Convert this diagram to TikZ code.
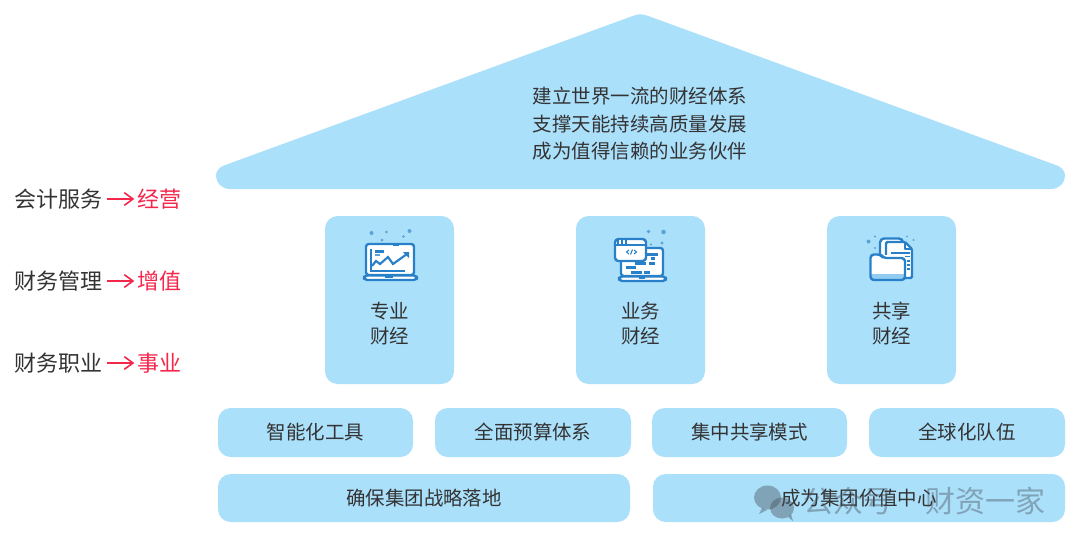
\documentclass[tikz,border=0pt]{standalone}
\usepackage{fontspec}
\setmainfont{Noto Sans CJK SC}
\usetikzlibrary{arrows.meta}
\definecolor{sky}{RGB}{171,224,251}
\definecolor{ink}{RGB}{51,51,51}
\definecolor{redc}{RGB}{245,38,75}
\definecolor{iconb}{RGB}{40,128,200}
\definecolor{icond}{RGB}{92,162,216}
\definecolor{wm}{RGB}{70,80,90}
\tikzset{
  tile/.style={fill=sky,draw=none,rounded corners=9.5pt,inner sep=0pt},
  mlbl/.style={text=ink,inner sep=0pt,align=center,font=\fontsize{14.6}{20.6}\selectfont},
  lbl/.style={text=ink,inner sep=0pt,text height=12.5pt,text depth=1.5pt,font=\fontsize{14.6}{20.6}\selectfont},
  lefttxt/.style={text=ink,inner sep=0pt,anchor=west,text height=14pt,text depth=1.5pt,font=\fontsize{16.5}{20}\selectfont},
  redtxt/.style={text=redc,inner sep=0pt,anchor=west,text height=14pt,text depth=1.5pt,font=\fontsize{16.5}{20}\selectfont},
  redarrow/.style={draw=redc,line width=1.35pt,-{Straight Barb[length=6.5pt,width=9.5pt,line width=1.2pt]},shorten <=3pt,shorten >=2pt},
  ic/.style={draw=iconb,line width=1.8pt,line join=round},
  icf/.style={ic,fill=white},
  ict/.style={draw=iconb,line width=1.6pt},
  dot/.style={fill=icond,draw=none},
  wmtxt/.style={text=wm,opacity=.42,inner sep=0pt,anchor=west,text height=19.5pt,text depth=2.5pt,font=\fontsize{22.5}{24}\selectfont}
}
\begin{document}
\begin{tikzpicture}[x=0.75pt,y=-0.75pt]
\useasboundingbox (0,0) rectangle (1080,544);
% roof
\fill[sky] (230,189) .. controls (222,189) and (216,183) .. (216,176)
  .. controls (216,171) and (219,167.5) .. (224,165.5) -- (634,15.5)
  .. controls (638,14) and (642.5,14) .. (647,15.5) -- (1057,165.5)
  .. controls (1062,167.5) and (1065,171) .. (1065,176)
  .. controls (1065,183) and (1059,189) .. (1051,189) -- cycle;
\node[mlbl] (rooftext) at (640,124) {建立世界一流的财经体系\\支撑天能持续高质量发展\\成为值得信赖的业务伙伴};
% pillars
\path[tile] (325,216) rectangle (454,384);
\path[tile] (576,216) rectangle (705,384);
\path[tile] (827,216) rectangle (956,384);
\node[mlbl,font=\fontsize{14.6}{18.75}\selectfont] (p1) at (389.5,323.5) {专业\\财经};
\node[mlbl,font=\fontsize{14.6}{18.75}\selectfont] (p2) at (640.5,323.5) {业务\\财经};
\node[mlbl,font=\fontsize{14.6}{18.75}\selectfont] (p3) at (891.5,323.5) {共享\\财经};
% row 1
\path[tile] (218,408) rectangle (413,457);
\path[tile] (435,408) rectangle (631,457);
\path[tile] (652,408) rectangle (847,457);
\path[tile] (869,408) rectangle (1065,457);
\node[lbl] (r1) at (315.5,432.5) {智能化工具};
\node[lbl] (r2) at (533,432.5) {全面预算体系};
\node[lbl] (r3) at (749.5,432.5) {集中共享模式};
\node[lbl] (r4) at (967,432.5) {全球化队伍};
% row 2
\path[tile] (218,474) rectangle (630,522);
\path[tile] (653,474) rectangle (1065,522);
\node[lbl] (b1) at (424,498) {确保集团战略落地};
\node[lbl] (b2) at (859,498) {成为集团价值中心};
% left labels
\node[lefttxt] (a1) at (14,199) {会计服务};
\node[redtxt] (c1) at (137,199) {经营};
\node[lefttxt] (a2) at (14,281) {财务管理};
\node[redtxt] (c2) at (137,281) {增值};
\node[lefttxt] (a3) at (14,363) {财务职业};
\node[redtxt] (c3) at (137,363) {事业};
\draw[redarrow] (a1.east) -- (c1.west);
\draw[redarrow] (a2.east) -- (c2.west);
\draw[redarrow] (a3.east) -- (c3.west);
% icon 1: laptop with chart
\fill[dot] (371.5,233) circle (2);
\fill[dot] (386.5,232) circle (1.3);
\fill[dot] (382,240) circle (1.5);
\fill[dot] (403.5,236.5) circle (1.3);
\fill[dot] (409.5,231) circle (2);
\draw[icf,rounded corners=2pt] (366,244) rectangle (414,275);
\fill[iconb] (393,242.5) rectangle (399,245.5);
\draw[icf,rounded corners=2.5pt] (364,275.5) rectangle (417,280);
\fill[iconb] (385,275.5) rectangle (393,278);
\draw[ict] (371,249) -- (371,271) -- (405,271);
\fill[iconb] (375,249.5) rectangle (384,252.5);
\fill[icond] (375,253.5) rectangle (380,256);
\draw[ict] (372,266) -- (376,261) -- (380,264) -- (388,257) -- (393,264) -- (407,254);
\fill[iconb] (403,252) -- (409,252) -- (409,258) -- cycle;
% icon 2: code window and laptop
\fill[dot] (648.5,231.5) circle (1.8);
\fill[dot] (663.5,232) circle (2.3);
\fill[dot] (651,244.5) circle (1.2);
\fill[dot] (662,243) circle (1.6);
\draw[icf,rounded corners=2pt] (621,248) rectangle (663,276);
\draw[icf,rounded corners=2.5pt] (619,276.5) rectangle (666,281);
\fill[iconb] (639,276) rectangle (645,278.5);
\fill[iconb] (647,253) rectangle (658,256);
\fill[iconb] (651,257) rectangle (655,260);
\fill[iconb] (635,262) rectangle (646,265);
\fill[iconb] (649,262) rectangle (655,265);
\fill[iconb] (626,266) rectangle (636,269);
\fill[iconb] (631,271) rectangle (642,274);
\fill[iconb] (644,271) rectangle (650,274);
\draw[icf,rounded corners=2.5pt] (615,239) rectangle (646,261);
\fill[iconb] (615,243.5) rectangle (646,245.5);
\fill[iconb] (617,239) rectangle (619,244);
\fill[iconb] (621,238) rectangle (623,244);
\fill[iconb] (625,238) rectangle (627,244);
\draw[iconb,line width=.8pt] (629,250) -- (626.5,252) -- (629,254)
  (634,250) -- (636.5,252) -- (634,254) (632.5,249.5) -- (630.5,254.5);
% icon 3: folder and pages
\fill[dot] (868.5,241.5) circle (2);
\fill[dot] (875,236.5) circle (1.2);
\fill[dot] (875,248) circle (1.2);
\fill[dot] (907,236.5) circle (1);
\fill[dot] (913.5,240) circle (1.1);
\draw[icf,rounded corners=3pt] (880,258) -- (880,238.5) -- (903,238.5) -- (903,258);
\draw[icf,rounded corners=1pt] (886,258) -- (886,242) -- (905,242) -- (912,249) -- (912,278) -- (905,278);
\draw[ic,line width=1.3pt] (905,242) -- (905,249) -- (912,249);
\draw[ict,line width=1.1pt] (891,253) -- (910,253) (891,256.5) -- (910,256.5) (907,261) -- (910,261) (907,265) -- (910,265) (907,269) -- (910,269);
\fill[white] (871,255) rectangle (905,280);
\fill[sky!80!iconb] (871,274) rectangle (905,279.5);
\draw[ic,rounded corners=2.5pt] (905,280) -- (870.5,280) -- (870.5,254.5) -- (881,254.5) -- (883,258) -- (905,258) -- cycle;
% watermark
\fill[wm,opacity=.42] (767.5,497.5) ellipse (13.5 and 12);
\fill[wm,opacity=.42] (782,508) ellipse (12 and 10.5);
\fill[wm,opacity=.42] (762,508) -- (759,514) -- (767,510) -- cycle;
\fill[wm,opacity=.42] (788,517) -- (793,521) -- (791,514) -- cycle;
\node[wmtxt] (w1) at (803,501) {公众号};
\node[wmtxt] (w2) at (925,501) {财资一家};
\end{tikzpicture}
\end{document}
